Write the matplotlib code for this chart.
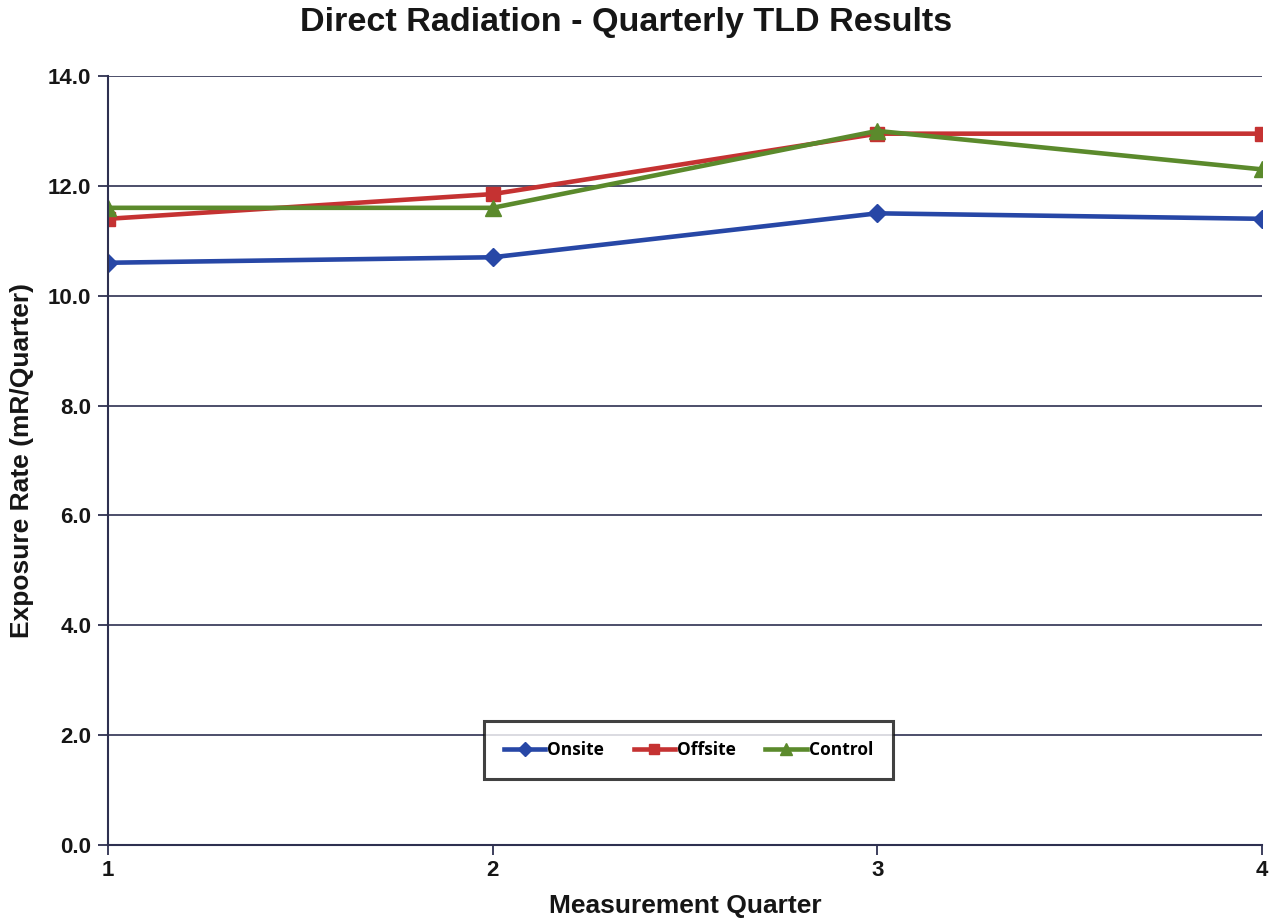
import matplotlib.pyplot as plt

quarters = [1, 2, 3, 4]
onsite = [10.6, 10.7, 11.5, 11.4]
offsite = [11.4, 11.85, 12.95, 12.95]
control = [11.6, 11.6, 13.0, 12.3]

plt.rcParams["font.family"] = ["Liberation Sans", "DejaVu Sans"]

fig = plt.figure(figsize=(12.81, 9.21), dpi=100)
ax = fig.add_axes([108 / 1281, 76 / 921, 1154 / 1281, 769 / 921])

grid_col = "#2e3050"
txt_col = "#161616"
ax.plot(quarters, onsite, color="#2747a6", lw=3.3, marker="D", ms=9, label="Onsite")
ax.plot(quarters, offsite, color="#c53232", lw=3.3, marker="s", ms=10, label="Offsite")
ax.plot(quarters, control, color="#5b8a2c", lw=3.3, marker="^", ms=11, label="Control")

ax.set_xlim(1, 4)
ax.set_ylim(0, 14)
ax.set_xticks(quarters)
ax.set_yticks([0, 2, 4, 6, 8, 10, 12, 14])
ax.set_yticklabels([f"{v:.1f}" for v in range(0, 15, 2)])
ax.yaxis.grid(True, color=grid_col, lw=1.2)
ax.set_axisbelow(True)
for s in ["top", "right"]:
    ax.spines[s].set_visible(False)
for s in ["left", "bottom"]:
    ax.spines[s].set_color(grid_col)
    ax.spines[s].set_linewidth(1.5)
ax.tick_params(axis="both", colors=grid_col, length=7, width=1.3, labelsize=16,
               labelcolor=txt_col)
ax.tick_params(axis="y", pad=5)
for lbl in ax.get_xticklabels() + ax.get_yticklabels():
    lbl.set_fontweight("bold")

fig.text(626 / 1281, 1 - 23 / 921, "Direct Radiation - Quarterly TLD Results",
         fontsize=24.6, fontweight="bold", color=txt_col, ha="center", va="center")
ax.set_xlabel("Measurement Quarter", fontsize=19, fontweight="bold",
              color=txt_col, labelpad=10)
ax.set_ylabel("Exposure Rate (mR/Quarter)", fontsize=19, fontweight="bold",
              color=txt_col)
ax.yaxis.set_label_coords(-74 / 1154, 0.5)

leg = ax.legend(loc="center", bbox_to_anchor=(0.503, 0.124), ncol=3,
                frameon=True, fancybox=False, handlelength=2.4,
                handletextpad=0.1, columnspacing=1.7, borderpad=1.15,
                prop={"family": "Open Sans", "weight": "bold", "size": 12.5},
                markerscale=0.75)
leg.get_frame().set_edgecolor("#111111")
leg.get_frame().set_linewidth(2.2)

fig.savefig("out.png", dpi=100, facecolor="white")
